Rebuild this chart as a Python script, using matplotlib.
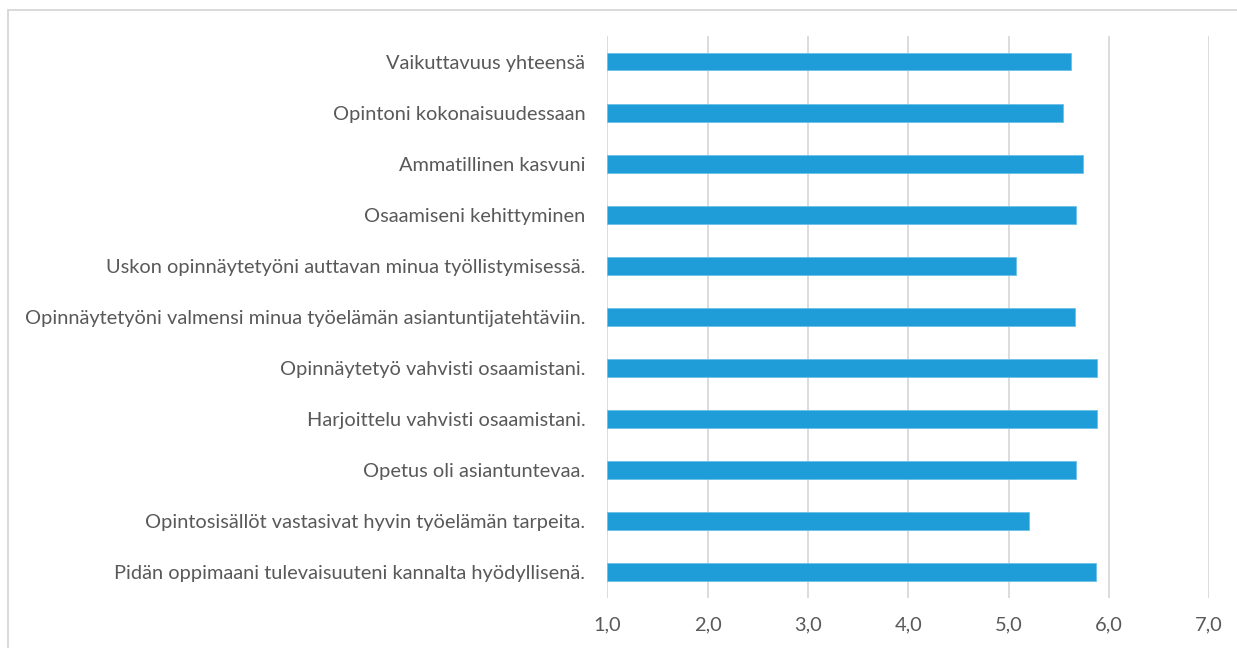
import matplotlib.pyplot as plt
from matplotlib.patches import Rectangle

# items from bottom to top
labels = [
    'Pidän oppimaani tulevaisuuteni kannalta hyödyllisenä.',
    'Opintosisällöt vastasivat hyvin työelämän tarpeita.',
    'Opetus oli asiantuntevaa.',
    'Harjoittelu vahvisti osaamistani.',
    'Opinnäytetyö vahvisti osaamistani.',
    'Opinnäytetyöni valmensi minua työelämän asiantuntijatehtäviin.',
    'Uskon opinnäytetyöni auttavan minua työllistymisessä.',
    'Osaamiseni kehittyminen',
    'Ammatillinen kasvuni',
    'Opintoni kokonaisuudessaan',
    'Vaikuttavuus yhteensä',
]
scores = [5.87, 5.20, 5.67, 5.88, 5.88, 5.66, 5.07, 5.67, 5.74, 5.54, 5.62]
xticks = [1, 2, 3, 4, 5, 6, 7]

plt.rcParams['font.family'] = ['Lato', 'DejaVu Sans']
text_color = '#595959'
grid_color = '#d9d9d9'

fig = plt.figure(figsize=(12.37, 6.48), dpi=100)
ax = fig.add_axes([0.4911, 0.0772, 0.4863, 0.8673])

pos = list(range(len(labels)))
ax.barh(pos, [s - 1 for s in scores], left=1, height=0.35,
        color='#1e9dd8', edgecolor='#6cc0e8', linewidth=0.6, zorder=3)

ax.set_xlim(1, 7)
ax.set_ylim(-0.5, len(labels) - 0.5)
ax.set_xticks(xticks)
ax.set_xticklabels([f'{t:.1f}'.replace('.', ',') for t in xticks])
ax.set_yticks(pos)
ax.set_yticklabels(labels)
ax.tick_params(axis='both', length=0, colors=text_color, labelsize=14.4)
ax.tick_params(axis='x', pad=13)
ax.tick_params(axis='y', pad=16)
ax.grid(axis='x', color=grid_color, linewidth=1.3, zorder=0)
for s in ax.spines.values():
    s.set_visible(False)

# chart frame
fig.add_artist(Rectangle((8 / 1237, -0.2), 1.2, 1.2 - 9.5 / 648,
                         transform=fig.transFigure, fill=False,
                         edgecolor=grid_color, linewidth=1.4))

fig.savefig('out.png', dpi=100)
